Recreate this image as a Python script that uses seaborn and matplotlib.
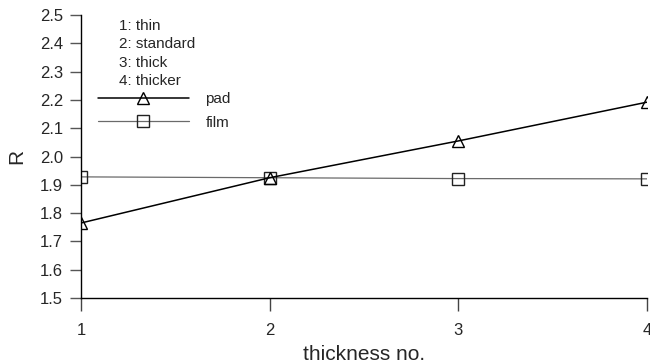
import matplotlib
matplotlib.use("Agg")
import matplotlib.pyplot as plt
import seaborn as sns
import pandas as pd

thickness = [1, 2, 3, 4]
pad = [1.765, 1.925, 2.055, 2.192]
film = [1.928, 1.925, 1.922, 1.921]
notes = ["1: thin", "2: standard", "3: thick", "4: thicker"]
yticks = [1.5, 1.6, 1.7, 1.8, 1.9, 2.0, 2.1, 2.2, 2.3, 2.4, 2.5]

sns.set_style("ticks")
plt.rcParams['font.family'] = ['Liberation Sans', 'DejaVu Sans']

fig = plt.figure(figsize=(6.5, 3.64), dpi=100)
ax = fig.add_axes([0.1246, 0.1813, 0.8708, 0.7775])

df = pd.DataFrame({"x": thickness, "pad": pad, "film": film})
sns.lineplot(data=df, x="x", y="film", ax=ax, color="#6a6a6a", lw=0.9,
             marker="s", markersize=8, markerfacecolor="none",
             markeredgecolor="#222222", markeredgewidth=1.0, label="film")
sns.lineplot(data=df, x="x", y="pad", ax=ax, color="black", lw=1.1,
             marker="^", markersize=8.5, markerfacecolor="none",
             markeredgecolor="black", markeredgewidth=1.0, label="pad")

for sp in ["top", "right"]:
    ax.spines[sp].set_visible(False)
for sp in ["left", "bottom"]:
    ax.spines[sp].set_linewidth(1.0)
    ax.spines[sp].set_color("black")

ax.set_xlim(1, 4)
ax.set_ylim(1.5, 2.5)
ax.set_xticks(thickness)
ax.set_yticks(yticks)
ax.set_yticklabels([f"{v:.1f}" for v in yticks])
ax.tick_params(axis="y", direction="out", length=8, width=1, labelsize=12, pad=5, color="#555555")
ax.tick_params(axis="x", direction="out", length=9, width=1, labelsize=12, pad=9, color="#444444")

ax.set_xlabel("thickness no.", fontsize=15, labelpad=5)
ax.set_ylabel("R", fontsize=15, labelpad=10)

for i, t in enumerate(notes):
    ax.text(0.068, 0.96 - i * 0.064, t, transform=ax.transAxes, fontsize=11,
            va="center", ha="left")

handles, labels = ax.get_legend_handles_labels()
order = [labels.index("pad"), labels.index("film")]
leg = ax.legend([handles[i] for i in order], [labels[i] for i in order],
                loc="upper left", bbox_to_anchor=(0.02, 0.748), frameon=False,
                fontsize=11, handlelength=5.9, handletextpad=1.1,
                labelspacing=0.6, borderaxespad=0)

fig.savefig("out.png", dpi=100)
